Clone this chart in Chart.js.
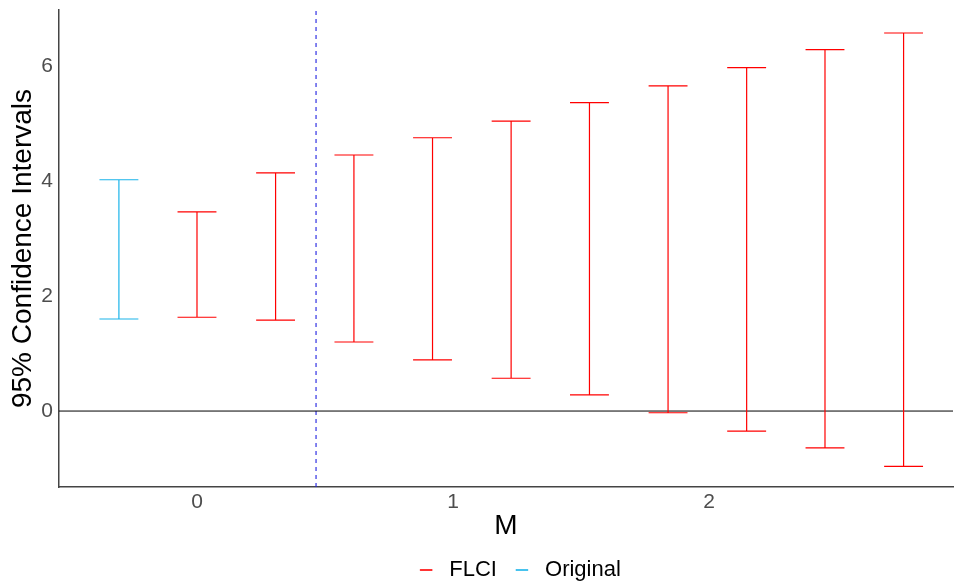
<!DOCTYPE html>
<html>
<head>
<meta charset="utf-8">
<script src="https://cdn.jsdelivr.net/npm/chart.js@4/dist/chart.umd.min.js"></script>
<style>
  html, body { margin: 0; padding: 0; background: #ffffff; }
  #wrap { width: 955px; height: 584px; }
</style>
</head>
<body>
<div id="wrap"><canvas id="c" width="955" height="584"></canvas></div>
<script>
// ---- data ----
const originalM = [-0.305];
const originalLB = [1.60];
const originalUB = [4.02];

const flciM = [0.000, 0.307, 0.613, 0.920, 1.227, 1.533, 1.840, 2.147, 2.453, 2.760];
const flciLB = [1.63, 1.58, 1.20, 0.89, 0.57, 0.28, -0.03, -0.35, -0.64, -0.96];
const flciUB = [3.46, 4.14, 4.45, 4.75, 5.04, 5.36, 5.65, 5.97, 6.28, 6.57];

const breakdownM = 0.465;
const xTicks = [0, 1, 2];
const yTicks = [0, 2, 4, 6];
const seriesNames = ["FLCI", "Original"];

// ---- layout / style ----
const X_MIN = -0.539, X_MAX = 2.953;
const Y_MIN = -1.32, Y_MAX = 6.97;
const CAP = 0.076; // half width of the cap, in M units
const FONT = "Liberation Sans, Arial, sans-serif";

function errorBarPoints(ms, lbs, ubs) {
  const pts = [];
  ms.forEach((m, i) => {
    pts.push({x: m - CAP, y: ubs[i]}, {x: m + CAP, y: ubs[i]}, {x: m, y: null});
    pts.push({x: m, y: ubs[i]}, {x: m, y: lbs[i]}, {x: m, y: null});
    pts.push({x: m - CAP, y: lbs[i]}, {x: m + CAP, y: lbs[i]}, {x: m, y: null});
  });
  return pts;
}

const RED = "#FF0000";
const BLUE = "#1AB4EA";

// move the legend to where the reference puts it
const legendPlacer = {
  id: "legendPlacer",
  afterLayout(chart) {
    const lg = chart.legend;
    if (!lg) return;
    const dx = 44;
    const h = lg.bottom - lg.top;
    lg.left += dx; lg.right += dx;
    lg.top = 540; lg.bottom = 540 + h;
  }
};

const chart = new Chart(document.getElementById("c"), {
  type: "line",
  data: {
    datasets: [
      {
        label: seriesNames[0],
        data: errorBarPoints(flciM, flciLB, flciUB),
        borderColor: RED, backgroundColor: RED,
        borderWidth: 1.2, pointRadius: 0, spanGaps: false, tension: 0
      },
      {
        label: seriesNames[1],
        data: errorBarPoints(originalM, originalLB, originalUB),
        borderColor: BLUE, backgroundColor: BLUE,
        borderWidth: 1.2, pointRadius: 0, spanGaps: false, tension: 0
      },
      {
        label: "_zero",
        data: [{x: X_MIN, y: 0}, {x: X_MAX, y: 0}],
        borderColor: "#000000", borderWidth: 1, pointRadius: 0
      },
      {
        label: "_breakdown",
        data: [{x: breakdownM, y: Y_MIN}, {x: breakdownM, y: Y_MAX}],
        borderColor: "#1F1FE0", borderWidth: 1.1, borderDash: [4, 4], pointRadius: 0
      }
    ]
  },
  plugins: [legendPlacer],
  options: {
    responsive: false,
    animation: false,
    layout: { padding: { left: 0, right: 2, top: 10, bottom: -12 } },
    plugins: {
      tooltip: { enabled: false },
      legend: {
        position: "bottom",
        labels: {
          boxWidth: 12,
          boxHeight: 1,
          padding: 19,
          color: "#000000",
          font: { family: FONT, size: 22 },
          generateLabels: (chart) => {
            const items = Chart.defaults.plugins.legend.labels.generateLabels(chart);
            return items
              .filter(it => !it.text.startsWith("_"))
              .map(it => Object.assign(it, { text: " " + it.text, lineWidth: 0.6 }));
          }
        }
      }
    },
    scales: {
      x: {
        type: "linear",
        min: X_MIN, max: X_MAX,
        grid: { display: false, drawTicks: true, tickLength: 3, tickColor: "#333333" },
        border: { display: true, color: "#444444", width: 1.5 },
        afterBuildTicks: (s) => { s.ticks = xTicks.map(v => ({value: v})); },
        afterFit: (s) => { s.height = 58; s.paddingLeft = 0; s.paddingRight = 0; },
        ticks: {
          color: "#4D4D4D", padding: 0,
          font: { family: FONT, size: 21 }
        },
        title: {
          display: true, text: "M", color: "#000000", padding: { top: 0, bottom: 2 },
          font: { family: FONT, size: 28 }
        }
      },
      y: {
        type: "linear",
        min: Y_MIN, max: Y_MAX,
        grid: { display: false, drawTicks: true, tickLength: 3, tickColor: "#333333" },
        border: { display: true, color: "#444444", width: 1.5 },
        afterBuildTicks: (s) => { s.ticks = yTicks.map(v => ({value: v})); },
        afterFit: (s) => { s.width = 59; s.paddingTop = 0; s.paddingBottom = 0; },
        ticks: {
          color: "#4D4D4D", padding: 3,
          font: { family: FONT, size: 21 }
        },
        title: {
          display: true, text: "95% Confidence Intervals", color: "#000000",
          padding: { top: 6, bottom: 0 },
          font: { family: FONT, size: 28 }
        }
      }
    }
  }
});
</script>
</body>
</html>
